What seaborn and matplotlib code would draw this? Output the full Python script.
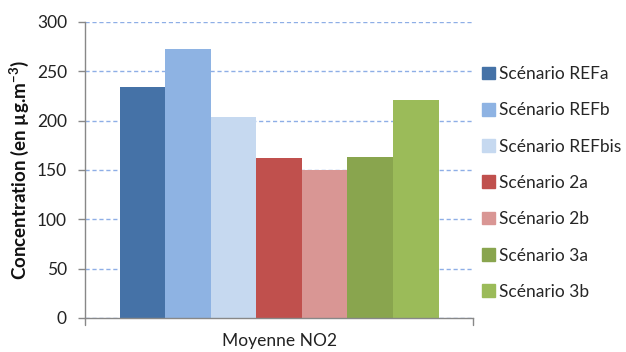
import matplotlib
matplotlib.use("Agg")
import matplotlib.pyplot as plt
import seaborn as sns
import pandas as pd

# Mean NO2 concentration per scenario
category = ["Moyenne NO2"]
scenarios = ["Scénario REFa", "Scénario REFb", "Scénario REFbis",
             "Scénario 2a", "Scénario 2b", "Scénario 3a", "Scénario 3b"]
values = [234, 273, 204, 162, 150, 163, 221]
colors = ["#4572a7", "#8eb3e3", "#c6d9f0", "#c0504d", "#d99694", "#89a54e", "#9bbb59"]
yticks = [0, 50, 100, 150, 200, 250, 300]

df = pd.DataFrame({"cat": category * len(scenarios), "scen": scenarios, "val": values})

sns.set_style("white")
plt.rcParams["font.family"] = ["Lato", "DejaVu Sans"]
plt.rcParams["mathtext.fontset"] = "custom"
plt.rcParams["mathtext.rm"] = "Lato"
plt.rcParams["mathtext.bf"] = "Lato:bold"

fig = plt.figure(figsize=(6.26, 3.52), dpi=100)
ax = fig.add_axes([0.1358, 0.0966, 0.62, 0.8409])

sns.barplot(data=df, x="cat", y="val", hue="scen", hue_order=scenarios,
            palette=colors, width=0.822, saturation=1, linewidth=0,
            ax=ax, legend=False)

ax.set_xlim(-0.5, 0.5)
ax.set_ylim(0, 300)
ax.set_yticks(yticks)
ax.set_yticklabels([str(t) for t in yticks], fontsize=12.5, color="#222222")
ax.set_xticks([0])
ax.set_xticklabels(category, fontsize=12.5, color="#222222")
ax.set_xlabel("")
ax.set_ylabel(r"Concentration (en µg.m$^{\mathbf{-3}}$)", fontsize=13.5,
              fontweight="bold", color="#111111", labelpad=4)

ax.grid(axis="y", linestyle=(0, (3, 2)), color="#8eaee6", linewidth=1)
ax.set_axisbelow(True)
for s in ["top", "right"]:
    ax.spines[s].set_visible(False)
for s in ["left", "bottom"]:
    ax.spines[s].set_color("#888888")
    ax.spines[s].set_linewidth(1)

ax.tick_params(axis="y", length=5, width=1, color="#888888", pad=8, left=True)
ax.tick_params(axis="x", length=0, pad=11, bottom=True)
# tick marks at both ends of the category axis
ax.plot([-0.5, -0.5], [0, -0.022], transform=ax.get_xaxis_transform(),
        color="#888888", lw=1, clip_on=False)
ax.plot([0.5, 0.5], [0, -0.022], transform=ax.get_xaxis_transform(),
        color="#888888", lw=1, clip_on=False)

handles = [plt.Rectangle((0, 0), 1, 1, color=c) for c in colors]
ax.legend(handles, scenarios, loc="upper left", bbox_to_anchor=(1.005, 0.875),
          frameon=False, fontsize=12.5, handlelength=0.75, handleheight=0.75,
          handletextpad=0.25, labelspacing=1.17, borderaxespad=0)

fig.savefig("out.png", dpi=100)
